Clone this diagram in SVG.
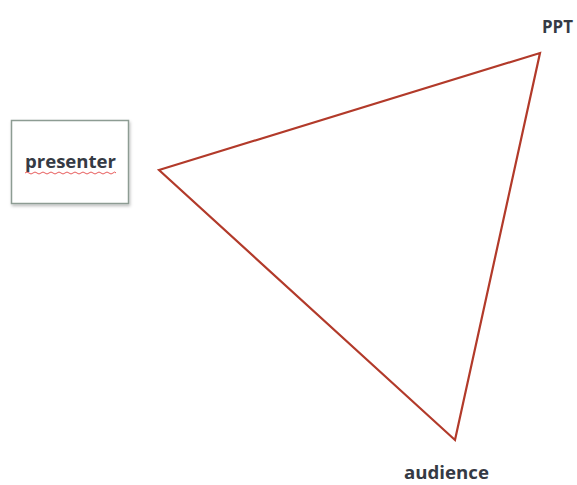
<svg xmlns="http://www.w3.org/2000/svg" width="577" height="485" viewBox="0 0 577 485">
<defs>
<filter id="sh" x="-10%" y="-10%" width="130%" height="130%"><feDropShadow dx="1" dy="2" stdDeviation="1.5" flood-color="#000" flood-opacity="0.25"/></filter>
</defs>
<style>
.lbl{font-family:"Open Sans","Liberation Sans",sans-serif;font-weight:bold;font-size:18.5px;fill:#353a44}
.edge{fill:none;stroke:#b23a2a;stroke-width:2.2;stroke-linejoin:miter}
</style>
<rect width="577" height="485" fill="#fff"/>
<g id="presenter">
<rect x="11.5" y="120.5" width="117" height="83" fill="#fff" stroke="#8d9c93" stroke-width="1.5" filter="url(#sh)"/>
<text class="lbl" x="25" y="168" textLength="91" lengthAdjust="spacingAndGlyphs">presenter</text>
<path d="M25 173 q2 -2 4 0 t4 0 t4 0 t4 0 t4 0 t4 0 t4 0 t4 0 t4 0 t4 0 t4 0 t4 0 t4 0 t4 0 t4 0 t4 0 t4 0 t4 0 t4 0 t4 0 t4 0 t4 0 t3 0" fill="none" stroke="#e03030" stroke-width="0.8"/>
</g>
<g id="connectors">
<polygon class="edge" points="159,170 540,53 455,440"/>
</g>
<g id="ppt"><text class="lbl" x="542" y="33" font-size="17" textLength="31" lengthAdjust="spacingAndGlyphs">PPT</text></g>
<g id="audience"><text class="lbl" x="404" y="479" font-size="17" textLength="85" lengthAdjust="spacingAndGlyphs">audience</text></g>
</svg>
